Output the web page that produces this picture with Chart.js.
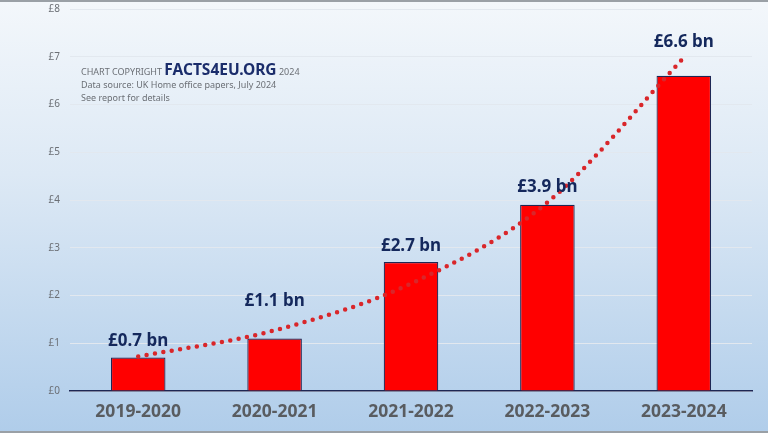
<!DOCTYPE html>
<html>
<head>
<meta charset="utf-8">
<script src="https://cdn.jsdelivr.net/npm/chart.js@4"></script>
<style>
  html,body{margin:0;padding:0;}
  #wrap{position:relative;width:768px;height:433px;box-sizing:border-box;overflow:hidden;
    border-top:2px solid #9aa0a6;border-bottom:2px solid #9aa0a6;
    background:linear-gradient(to bottom,#f3f7fb 0%,#dde9f5 40%,#b0cdea 100%);
    font-family:"Noto Sans",sans-serif;}
  #c{position:absolute;left:0;top:-9px;}
  #note{position:absolute;left:81px;top:61px;color:#6b6f75;font-size:9px;line-height:13px;}
  #note b{color:#1b2d6b;font-size:15.5px;font-weight:700;}
</style>
</head>
<body>
<div id="wrap">
  <canvas id="c" width="768" height="438"></canvas>
  <div id="note">
    <div>CHART COPYRIGHT <b>FACTS4EU.ORG</b> 2024</div>
    <div>Data source: UK Home office papers, July 2024</div>
    <div>See report for details</div>
  </div>
</div>
<script>
// Home Office asylum costs, £bn per year
const years = ['2019-2020','2020-2021','2021-2022','2022-2023','2023-2024'];
const costs = [0.7, 1.1, 2.7, 3.9, 6.6];
const trend = [0.72, 1.27, 2.25, 3.95, 6.98];   // dotted exponential trend
const yTicks = [0,1,2,3,4,5,6,7,8];

// value labels over each bar
const labelPlugin = {
  id:'barLabels',
  afterDatasetsDraw(chart){
    const ctx = chart.ctx, meta = chart.getDatasetMeta(1), y = chart.scales.y;
    const extra = [0, 14, 0, 0, 0];
    ctx.save();
    ctx.font = 'bold 17px "Noto Sans"';
    ctx.fillStyle = '#14285c';
    ctx.textAlign = 'center';
    ctx.textBaseline = 'bottom';
    meta.data.forEach((bar,i)=>{
      const top = y.getPixelForValue(Math.max(costs[i], trend[i]));
      ctx.fillText('£' + costs[i].toFixed(1) + ' bn', bar.x, top - 7 - extra[i]);
    });
    ctx.restore();
  }
};

new Chart(document.getElementById('c'),{
  data:{
    labels: years,
    datasets:[
      { type:'line', data:trend, borderColor:'#d9262a', borderWidth:4.5,
        borderDash:[0,8.5], borderCapStyle:'round', pointRadius:0,
        cubicInterpolationMode:'monotone', fill:false, order:0 },
      { type:'bar', data:costs, backgroundColor:'#ff0000', borderColor:'#1e2754',
        borderWidth:1.2, categoryPercentage:1, barPercentage:0.4, order:1 }
    ]
  },
  options:{
    responsive:false, animation:false,
    layout:{ padding:{ top:0, right:16, left:0, bottom:0 } },
    plugins:{ legend:{display:false}, tooltip:{enabled:false} },
    scales:{
      x:{
        grid:{ display:false, drawTicks:false },
        border:{ color:'#1e2754', width:1.5 },
        ticks:{ color:'#595c60', font:{ family:'Noto Sans', size:17.5, weight:'bold' }, padding:11 },
        afterFit(s){ s.height = 40; }
      },
      y:{
        min:0, max:8,
        afterBuildTicks(s){ s.ticks = yTicks.map(v=>({value:v})); },
        grid:{ color:'#e2e8ef', lineWidth:1, drawTicks:false },
        border:{ display:false },
        ticks:{ color:'#6b6f75', font:{ family:'Noto Sans', size:10 }, padding:10,
          callback:v=>'£' + v },
        afterFit(s){ s.width = 70; }
      }
    }
  },
  plugins:[labelPlugin]
});
</script>
</body>
</html>
